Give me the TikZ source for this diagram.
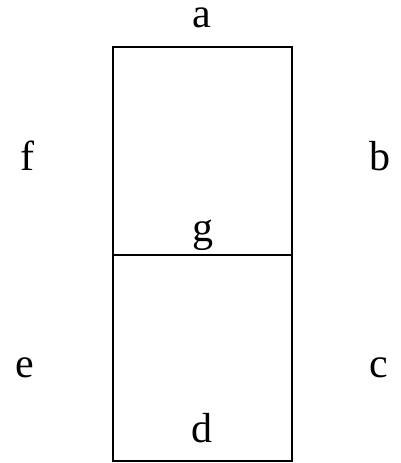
\documentclass[tikz,border=0pt]{standalone}
\usepackage{fontspec}
\setmainfont{Liberation Serif}
\begin{document}
\begin{tikzpicture}[x=1pt,y=1pt,
  seg/.style={draw=black,line width=1.3pt},
  lbl/.style={anchor=base,inner sep=0pt,font=\fontsize{42}{48}\selectfont}]
\useasboundingbox (0,0) rectangle (400,463);
\coordinate (tl) at (113,416);
\coordinate (tr) at (292,416);
\coordinate (ml) at (113,208);
\coordinate (mr) at (292,208);
\coordinate (bl) at (113,2);
\coordinate (br) at (292,2);
\draw[seg] (tl) -- (tr) -- (br) -- (bl) -- cycle;
\draw[seg] (ml) -- (mr);
\node[lbl] (a) at (202,435) {a};
\node[lbl] (f) at (27,292) {f};
\node[lbl] (b) at (380,292) {b};
\node[lbl] (g) at (203,221) {g};
\node[lbl] (e) at (25,85) {e};
\node[lbl] (c) at (379,85) {c};
\node[lbl] (d) at (202,20) {d};
\end{tikzpicture}
\end{document}
